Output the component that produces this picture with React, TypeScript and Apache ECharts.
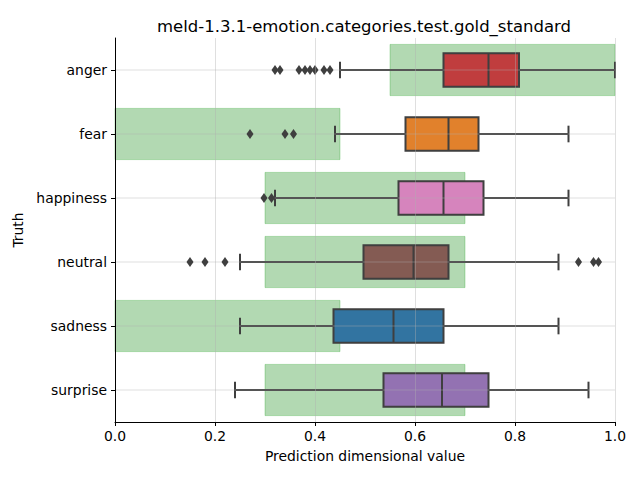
import React, { useEffect, useRef } from "react";
import * as echarts from "echarts";

const categories = ["anger", "fear", "happiness", "neutral", "sadness", "surprise"];
const boxMin = [0.45, 0.44, 0.32, 0.25, 0.25, 0.24];
const boxQ1 = [0.657, 0.581, 0.567, 0.497, 0.437, 0.537];
const boxMedian = [0.747, 0.667, 0.657, 0.597, 0.557, 0.654];
const boxQ3 = [0.808, 0.727, 0.737, 0.667, 0.657, 0.747];
const boxMax = [1.0, 0.907, 0.907, 0.887, 0.887, 0.947];
const boxColors = ["#c03d3e", "#e1812c", "#d684bd", "#845b53", "#3274a1", "#9372b2"];
const rangeLow = [0.55, 0.0, 0.3, 0.3, 0.0, 0.3];
const rangeHigh = [1.0, 0.45, 0.7, 0.7, 0.45, 0.7];
const outlierCategory = [
  "anger", "anger", "anger", "anger", "anger", "anger", "anger", "anger",
  "fear", "fear", "fear",
  "happiness", "happiness",
  "neutral", "neutral", "neutral", "neutral", "neutral", "neutral",
];
const outlierValue = [
  0.32, 0.33, 0.368, 0.38, 0.39, 0.40, 0.418, 0.43,
  0.27, 0.34, 0.357,
  0.298, 0.313,
  0.15, 0.18, 0.22, 0.927, 0.957, 0.967,
];

export default function App() {
  const ref = useRef<HTMLDivElement>(null);
  useEffect(() => {
    if (!ref.current) return;
    const chart = echarts.init(ref.current, null, { renderer: "svg" });
    const font = "DejaVu Sans";
    const gridColor = "rgba(176,176,176,0.5)";
    const boxData = categories.map((_, i) => [i, boxMin[i], boxQ1[i], boxMedian[i], boxQ3[i], boxMax[i]]);
    const rangeData = categories.map((_, i) => [i, rangeLow[i], rangeHigh[i]]);
    const gridLineData = categories.map((_, i) => [i, 0, 1]);
    const outlierData = outlierValue.map((v, i) => [v, categories.indexOf(outlierCategory[i])]);
    const edge = "#3f3f3f";
    chart.setOption({
      animation: false,
      title: {
        text: "meld-1.3.1-emotion.categories.test.gold_standard",
        left: 359,
        top: 13,
        textAlign: "center",
        textStyle: { fontFamily: font, fontSize: 16.5, fontWeight: "normal", color: "#000" },
      },
      grid: { left: 115, right: 25, top: 38, bottom: 58, containLabel: false },
      xAxis: {
        type: "value",
        min: 0,
        max: 1,
        interval: 0.2,
        z: 10,
        name: "Prediction dimensional value",
        nameLocation: "middle",
        nameGap: 27,
        nameTextStyle: { fontFamily: font, fontSize: 13.9, color: "#000" },
        axisLine: { show: true, lineStyle: { color: "#000", width: 1 } },
        axisTick: { show: true, length: 4, lineStyle: { color: "#000", width: 1 } },
        axisLabel: {
          fontFamily: font,
          fontSize: 13.9,
          color: "#000",
          margin: 7,
          formatter: (v: number) => v.toFixed(1),
        },
        splitLine: { show: true, lineStyle: { color: gridColor, width: 0.8 } },
      },
      yAxis: {
        type: "category",
        data: categories,
        inverse: true,
        z: 10,
        name: "Truth",
        nameLocation: "middle",
        nameGap: 88,
        nameTextStyle: { fontFamily: font, fontSize: 13.9, color: "#000" },
        axisLine: { show: true, lineStyle: { color: "#000", width: 1 } },
        axisTick: { show: true, length: 4, alignWithLabel: true, lineStyle: { color: "#000", width: 1 } },
        axisLabel: { fontFamily: font, fontSize: 13.9, color: "#000", margin: 8 },
        splitLine: { show: false },
      },
      series: [
        {
          type: "custom",
          coordinateSystem: "cartesian2d",
          z: 1,
          encode: { x: [1, 2], y: 0 },
          data: rangeData,
          renderItem: (params: any, api: any) => {
            const ci = api.value(0);
            const h = api.size([0, 1])[1];
            const a = api.coord([api.value(1), ci]);
            const b = api.coord([api.value(2), ci]);
            const rh = h * 0.8;
            return {
              type: "rect",
              shape: { x: a[0], y: a[1] - rh / 2, width: b[0] - a[0], height: rh },
              style: { fill: "rgba(0,128,0,0.3)", stroke: "rgba(0,150,0,0.25)", lineWidth: 1 },
            };
          },
        },
        {
          type: "custom",
          coordinateSystem: "cartesian2d",
          z: 3,
          encode: { x: [1, 2, 3, 4, 5], y: 0 },
          data: boxData,
          renderItem: (params: any, api: any) => {
            const ci = api.value(0);
            const h = api.size([0, 1])[1];
            const bw = h * 0.52;
            const cap = h * 0.26;
            const px = (k: number) => api.coord([api.value(k), ci])[0];
            const yc = api.coord([0, ci])[1];
            const xmin = px(1), xq1 = px(2), xmed = px(3), xq3 = px(4), xmax = px(5);
            const ls = { stroke: edge, lineWidth: 2 };
            return {
              type: "group",
              children: [
                { type: "line", shape: { x1: xmin, y1: yc, x2: xq1, y2: yc }, style: ls },
                { type: "line", shape: { x1: xq3, y1: yc, x2: xmax, y2: yc }, style: ls },
                { type: "line", shape: { x1: xmin, y1: yc - cap / 2, x2: xmin, y2: yc + cap / 2 }, style: ls },
                { type: "line", shape: { x1: xmax, y1: yc - cap / 2, x2: xmax, y2: yc + cap / 2 }, style: ls },
                {
                  type: "rect",
                  shape: { x: xq1, y: yc - bw / 2, width: xq3 - xq1, height: bw },
                  style: { fill: boxColors[params.dataIndex], stroke: edge, lineWidth: 2 },
                },
                { type: "line", shape: { x1: xmed, y1: yc - bw / 2, x2: xmed, y2: yc + bw / 2 }, style: ls },
              ],
            };
          },
        },
        {
          type: "custom",
          coordinateSystem: "cartesian2d",
          z: 5,
          silent: true,
          encode: { x: [1, 2], y: 0 },
          data: gridLineData,
          renderItem: (params: any, api: any) => {
            const ci = api.value(0);
            const a = api.coord([api.value(1), ci]);
            const b = api.coord([api.value(2), ci]);
            return {
              type: "line",
              shape: { x1: a[0], y1: a[1], x2: b[0], y2: b[1] },
              style: { stroke: gridColor, lineWidth: 0.8 },
            };
          },
        },
        {
          type: "scatter",
          z: 6,
          symbol: "diamond",
          symbolSize: [7, 10],
          itemStyle: { color: edge, opacity: 1 },
          data: outlierData,
        },
      ],
    });
    return () => chart.dispose();
  }, []);
  return <div ref={ref} style={{ width: 640, height: 480, position: "absolute", left: 0, top: 0 }} />;
}
